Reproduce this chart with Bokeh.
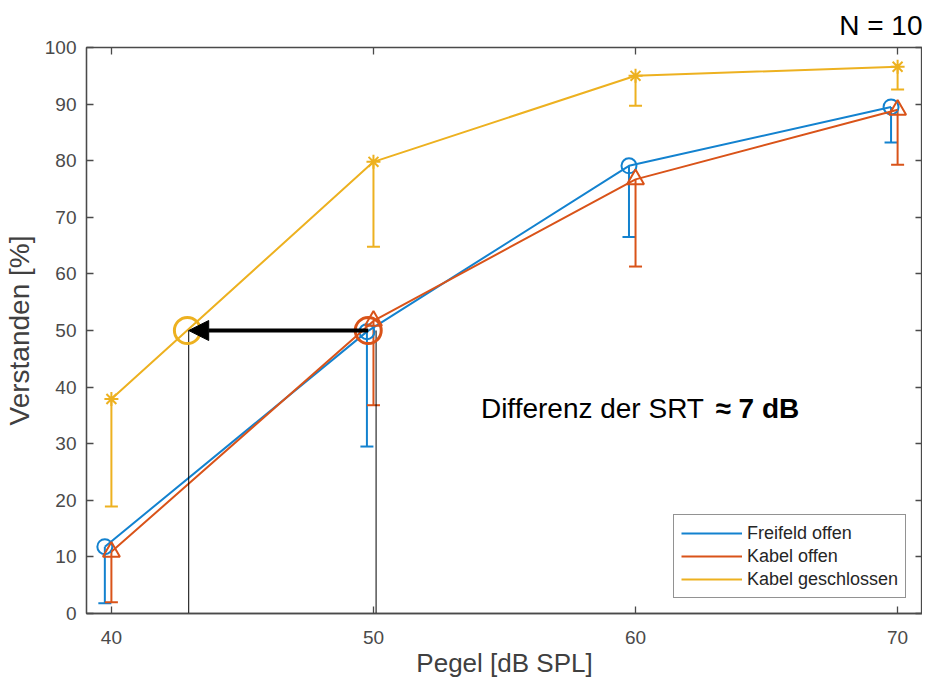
from bokeh.plotting import figure
from bokeh.models import (Whisker, TeeHead, Arrow, NormalHead, Label, Legend, LegendItem,
                          LinearAxis, FixedTicker, Range1d, ColumnDataSource)
from bokeh.embed import file_html
from bokeh.resources import INLINE

# ---- data ----
pegel = [40, 50, 60, 70]
x_freifeld = [39.75, 49.75, 59.75, 69.75]
freifeld_offen = [11.8, 49.8, 79.1, 89.5]
freifeld_lower = [1.8, 29.5, 66.5, 83.2]
kabel_offen = [10.9, 51.7, 76.7, 89.0]
kabel_offen_lower = [2.0, 36.8, 61.3, 79.3]
kabel_geschlossen = [37.9, 79.8, 95.0, 96.6]
kabel_geschlossen_lower = [18.9, 64.8, 89.7, 92.6]

x_ticks = [40, 50, 60, 70]
y_ticks = [0, 10, 20, 30, 40, 50, 60, 70, 80, 90, 100]

srt_level = 50
srt_geschlossen_x = 42.9
srt_offen_x = 49.8
srt_lines_x = [42.95, 50.1]
annot_text = "Differenz der SRT"
annot_bold = "≈ 7 dB"
n_text = "N = 10"

BLUE = "#1382cf"
ORANGE = "#d95319"
YELLOW = "#edb120"
FONT = "Liberation Sans"
AX = "#4a4a4a"

p = figure(frame_width=836, frame_height=566, x_range=Range1d(39.05, 70.95), y_range=Range1d(0, 100),
           output_backend="svg", toolbar_location=None,
           min_border_left=82, min_border_right=0, min_border_top=40, min_border_bottom=70)
p.grid.visible = False
p.background_fill_color = "white"
p.outline_line_color = AX
p.outline_line_width = 1.3

p.title.text = n_text
p.title.align = "right"
p.title.text_font = FONT
p.title.text_font_size = "28px"
p.title.text_font_style = "normal"
p.title.text_color = "#000000"
p.title.standoff = 14

for ax in [p.xaxis[0], p.yaxis[0]]:
    ax.major_tick_in = 7
    ax.major_tick_out = 0
    ax.minor_tick_line_color = None
    ax.axis_line_color = AX
    ax.axis_line_width = 1.3
    ax.major_tick_line_color = AX
    ax.major_tick_line_width = 1.3
    ax.major_label_text_font = FONT
    ax.major_label_text_font_size = "19px"
    ax.major_label_text_color = AX
    ax.axis_label_text_font = FONT
    ax.axis_label_text_font_style = "normal"
    ax.axis_label_text_color = "#404040"

p.xaxis.ticker = FixedTicker(ticks=x_ticks)
p.yaxis.ticker = FixedTicker(ticks=y_ticks)
p.xaxis.axis_label = "Pegel [dB SPL]"
p.yaxis.axis_label = "Verstanden [%]"
p.xaxis.axis_label_text_font_size = "26px"
p.yaxis.axis_label_text_font_size = "28px"
p.xaxis.major_label_standoff = 17
p.xaxis.axis_label_standoff = 1
p.yaxis.major_label_standoff = 10
p.yaxis.axis_label_standoff = 7

top_ax = LinearAxis(ticker=FixedTicker(ticks=x_ticks), major_label_text_font_size="1px",
                    major_label_text_color=None,
                    major_tick_in=7, major_tick_out=0, minor_tick_line_color=None,
                    axis_line_color=AX, major_tick_line_color=AX, major_tick_line_width=1.3,
                    major_label_standoff=0)
right_ax = LinearAxis(ticker=FixedTicker(ticks=y_ticks), major_label_text_font_size="1px",
                      major_label_text_color=None,
                      major_tick_in=7, major_tick_out=0, minor_tick_line_color=None,
                      axis_line_color=AX, major_tick_line_color=AX, major_tick_line_width=1.3,
                      major_label_standoff=0)
p.add_layout(top_ax, "above")
p.add_layout(right_ax, "right")

series = [
    ("Freifeld offen", x_freifeld, freifeld_offen, freifeld_lower, BLUE, "circle", 15),
    ("Kabel offen", pegel, kabel_offen, kabel_offen_lower, ORANGE, "triangle", 17),
    ("Kabel geschlossen", pegel, kabel_geschlossen, kabel_geschlossen_lower, YELLOW, "asterisk", 14),
]

items = []
for name, xs, ys, lows, col, mk, sz in series:
    src = ColumnDataSource(dict(x=xs, y=ys, low=lows))
    r = p.line("x", "y", source=src, line_color=col, line_width=2)
    w = Whisker(base="x", upper="y", lower="low", source=src, dimension="height",
                line_color=col, line_width=2, upper_head=None,
                lower_head=TeeHead(size=13, line_color=col, line_width=2))
    p.add_layout(w)
    p.scatter("x", "y", source=src, marker=mk, size=sz, fill_color=None,
              line_color=col, line_width=2)
    items.append(LegendItem(label=name, renderers=[r]))

# annotation: SRT lines, circles, arrow
p.segment(x0=srt_lines_x, y0=[0, 0], x1=srt_lines_x, y1=[srt_level, srt_level],
          line_color="black", line_width=1)
p.scatter(x=[srt_geschlossen_x], y=[srt_level], marker="circle", size=26, fill_color=None,
          line_color=YELLOW, line_width=3)
p.scatter(x=[srt_offen_x], y=[srt_level], marker="circle", size=26, fill_color=None,
          line_color=ORANGE, line_width=3)
p.add_layout(Arrow(x_start=srt_offen_x, y_start=srt_level, x_end=srt_lines_x[0], y_end=srt_level,
                   line_color="black", line_width=4,
                   end=NormalHead(size=20, fill_color="black", line_color="black")))

p.add_layout(Label(x=54.1, y=36.3, text=annot_text, text_font=FONT,
                   text_font_size="28px", text_color="#000000", text_baseline="middle"))
p.add_layout(Label(x=63.05, y=36.3, text=annot_bold, text_font=FONT,
                   text_font_size="28px", text_font_style="bold", text_color="#000000",
                   text_baseline="middle"))

legend = Legend(items=items, location=(587, 15), margin=0, padding=7, spacing=1,
                label_text_font=FONT, label_text_font_size="18px", label_text_color="#262626",
                label_height=22, glyph_height=22, glyph_width=61, label_standoff=5,
                border_line_color="#262626", border_line_width=1.3,
                background_fill_color="white")
p.add_layout(legend)

open("out.html", "w").write(file_html(p, INLINE))
